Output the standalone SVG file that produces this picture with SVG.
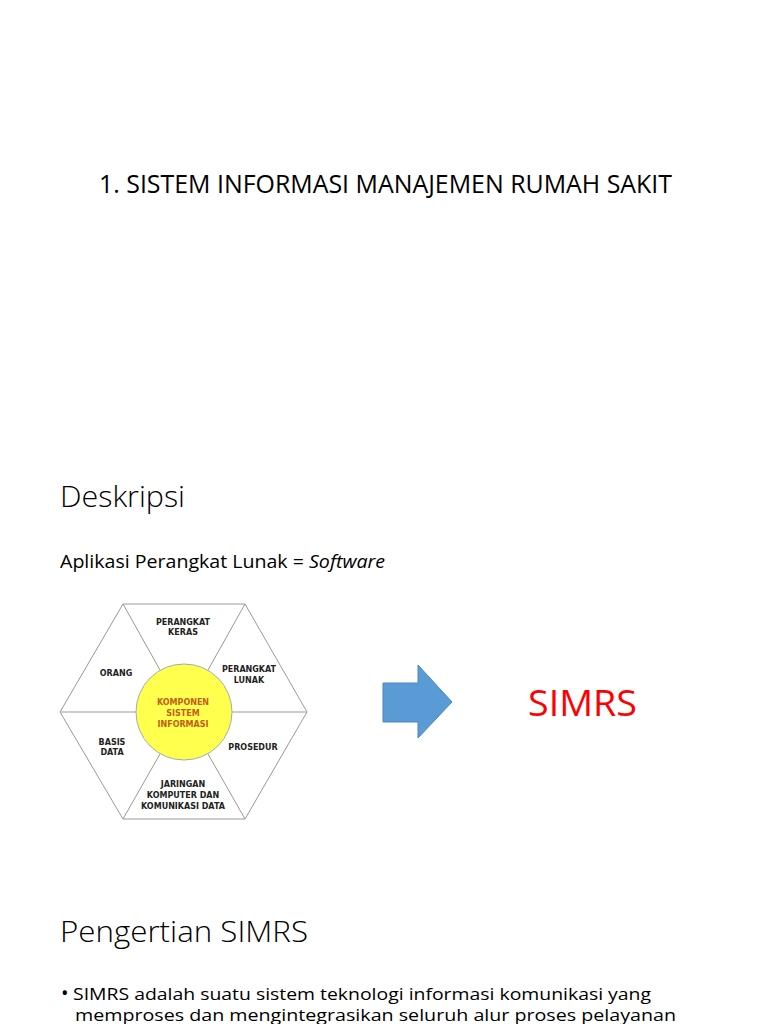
<svg xmlns="http://www.w3.org/2000/svg" width="768" height="1024" viewBox="0 0 768 1024">
<style>
.t{font-family:"Open Sans","Liberation Sans",sans-serif;fill:#000}
.lab{font-family:"DejaVu Sans","Liberation Sans",sans-serif;font-weight:bold;font-size:8px;fill:#222;text-anchor:middle}
.hx{fill:none;stroke:#999;stroke-width:1}
</style>
<rect width="768" height="1024" fill="#fff"/>
<text class="t" x="99" y="193" font-size="26" textLength="573" lengthAdjust="spacingAndGlyphs">1. SISTEM INFORMASI MANAJEMEN RUMAH SAKIT</text>
<text class="t" x="60" y="507" font-size="30" font-weight="300" textLength="125" lengthAdjust="spacingAndGlyphs">Deskripsi</text>
<text class="t" x="60" y="568" font-size="18" textLength="325" lengthAdjust="spacingAndGlyphs">Aplikasi Perangkat Lunak = <tspan font-style="italic">Software</tspan></text>
<g id="hexagon">
<polygon class="hx" points="123,604 245,604 307,712 245,819 123,819 60,712"/>
<line class="hx" x1="123" y1="604" x2="160" y2="670"/>
<line class="hx" x1="245" y1="604" x2="208" y2="670"/>
<line class="hx" x1="60" y1="712" x2="136" y2="712"/>
<line class="hx" x1="232" y1="712" x2="307" y2="712"/>
<line class="hx" x1="123" y1="819" x2="160" y2="754"/>
<line class="hx" x1="245" y1="819" x2="208" y2="754"/>
<circle cx="184" cy="712" r="48" fill="#ffff4d" stroke="#aaa" stroke-width="1"/>
<text class="lab" x="183" y="625">PERANGKAT</text>
<text class="lab" x="183" y="635">KERAS</text>
<text class="lab" x="116" y="676">ORANG</text>
<text class="lab" x="249" y="672">PERANGKAT</text>
<text class="lab" x="249" y="683">LUNAK</text>
<text class="lab" x="183" y="705" style="fill:#c0601a">KOMPONEN</text>
<text class="lab" x="183" y="716" style="fill:#c0601a">SISTEM</text>
<text class="lab" x="183" y="727" style="fill:#c0601a">INFORMASI</text>
<text class="lab" x="112" y="745">BASIS</text>
<text class="lab" x="112" y="755">DATA</text>
<text class="lab" x="253" y="750">PROSEDUR</text>
<text class="lab" x="183" y="787">JARINGAN</text>
<text class="lab" x="183" y="798">KOMPUTER DAN</text>
<text class="lab" x="183" y="809">KOMUNIKASI DATA</text>
</g>
<g id="connectors">
<polygon points="383,683 418,683 418,665 452,702 418,738 418,722 383,722" fill="#5b9bd5" stroke="#4a87c0" stroke-width="1"/>
</g>
<g id="simrs">
<text class="t" x="528" y="716" font-size="36" style="fill:#ff0000" textLength="109" lengthAdjust="spacingAndGlyphs">SIMRS</text>
</g>
<text class="t" x="60" y="942" font-size="30" font-weight="300" textLength="248" lengthAdjust="spacingAndGlyphs">Pengertian SIMRS</text>
<text class="t" x="61" y="1000" font-size="20">•</text>
<text class="t" x="73" y="1000" font-size="16" textLength="578" lengthAdjust="spacingAndGlyphs">SIMRS adalah suatu sistem teknologi informasi komunikasi yang</text>
<text class="t" x="75" y="1021" font-size="16" textLength="601" lengthAdjust="spacingAndGlyphs">memproses dan mengintegrasikan seluruh alur proses pelayanan</text>
</svg>
